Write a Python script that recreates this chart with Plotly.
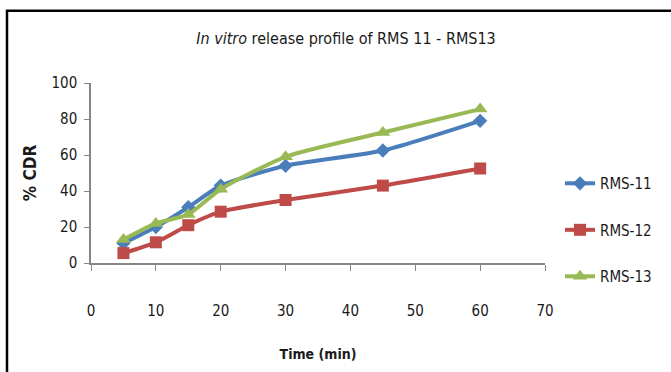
import plotly.graph_objects as go

# Sampling times (min) and cumulative drug release (%)
time_min = [5, 10, 15, 20, 30, 45, 60]
rms_11 = [11, 20, 31, 43, 54, 62.5, 79]
rms_12 = [5.5, 11.5, 21, 28.5, 35, 43, 52.5]
rms_13 = [13, 22, 27, 41, 59, 72.5, 85.5]

x_ticks = [0, 10, 20, 30, 40, 50, 60, 70]
y_ticks = [0, 20, 40, 60, 80, 100]

FONT = "DejaVu Sans Condensed, Liberation Sans Narrow, Liberation Sans, sans-serif"
W, H = 671, 372
ML, MR, MT, MB = 91, 126, 83, 107
PW, PH = W - ML - MR, H - MT - MB
TXT = "#1a1a1a"

series = [
    ("RMS-11", rms_11, "#4A7EBB", "diamond", 11),
    ("RMS-12", rms_12, "#BE4B48", "square", 12),
    ("RMS-13", rms_13, "#98B954", "triangle-up", 13),
]

fig = go.Figure()
for i, (name, vals, color, symbol, size) in enumerate(series):
    fig.add_trace(go.Scatter(
        x=time_min, y=vals, name=name, mode="lines+markers",
        line=dict(color=color, width=4, shape="spline", smoothing=0.6),
        marker=dict(symbol=symbol, size=size, color=color),
        legendgroup=f"g{i}",
    ))

def px_to_paper_x(px):
    return (px - ML) / PW

def px_to_paper_y(py):
    return (H - MB - py) / PH

# Outer frame around the chart
fig.add_shape(type="rect", xref="paper", yref="paper",
              x0=px_to_paper_x(7), x1=px_to_paper_x(W + 20),
              y0=px_to_paper_y(H + 20), y1=px_to_paper_y(10),
              line=dict(color="black", width=2.5), layer="above")

fig.update_layout(
    width=W, height=H,
    margin=dict(l=ML, r=MR, t=MT, b=MB),
    paper_bgcolor="white", plot_bgcolor="white",
    font=dict(family=FONT, size=14, color=TXT),
    title=dict(
        text="<i>In vitro</i> release profile of RMS 11 - RMS13",
        x=px_to_paper_x(346), xref="paper", xanchor="center",
        y=1 - 38 / H, yanchor="middle",
        font=dict(family=FONT, size=16, color=TXT),
    ),
    showlegend=True,
    legend=dict(
        x=px_to_paper_x(560), y=px_to_paper_y(168), xanchor="left", yanchor="top",
        font=dict(family=FONT, size=15, color=TXT),
        tracegroupgap=24, itemwidth=30,
        bgcolor="rgba(0,0,0,0)",
    ),
    xaxis=dict(
        range=[0, 70], tickvals=x_ticks, ticktext=[str(v) for v in x_ticks],
        showgrid=False, zeroline=False, showline=True, linecolor="#868686",
        linewidth=1.5, ticks="outside", ticklen=6, tickcolor="#868686",
        ticklabelstandoff=27,
        tickfont=dict(family=FONT, size=15, color=TXT),
        title=dict(text="<b>Time (min)</b>", standoff=30,
                   font=dict(family=FONT, size=14, color=TXT)),
        fixedrange=True,
    ),
    yaxis=dict(
        range=[0, 100], tickvals=y_ticks, ticktext=[str(v) for v in y_ticks],
        showgrid=False, zeroline=False, showline=True, linecolor="#868686",
        linewidth=1.5, ticks="outside", ticklen=5, tickcolor="#868686",
        ticklabelstandoff=4,
        tickfont=dict(family=FONT, size=15, color=TXT),
        title=dict(text="<b>% CDR</b>", standoff=11,
                   font=dict(family=FONT, size=17, color=TXT)),
        fixedrange=True,
    ),
)

fig.write_html("out.html")
